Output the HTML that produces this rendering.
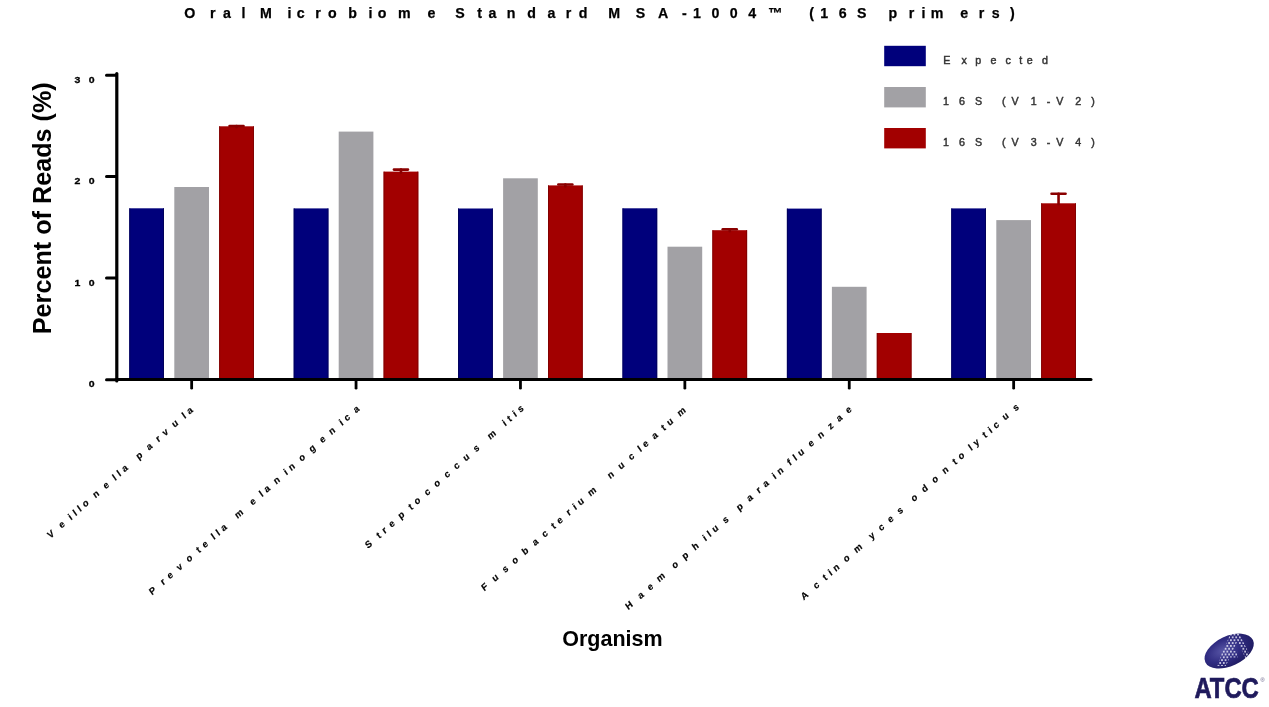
<!DOCTYPE html>
<html><head><meta charset="utf-8"><style>
html,body{margin:0;padding:0;background:#fff;}
body{width:1269px;height:707px;overflow:hidden;}
svg{display:block;will-change:transform;font-family:"Liberation Sans",sans-serif;}
</style></head><body>
<svg width="1269" height="707" viewBox="0 0 1269 707">
<rect width="100%" height="100%" fill="#fff"/>
<rect x="129.3" y="208.3" width="34.7" height="171.4" fill="#00007b"/>
<rect x="174.3" y="187" width="34.7" height="192.7" fill="#a2a1a5"/>
<rect x="219.2" y="126.3" width="34.7" height="253.4" fill="#a20000"/>
<rect x="129.3" y="208.3" width="0.9" height="171.4" fill="#00005a"/>
<rect x="163.1" y="208.3" width="0.9" height="171.4" fill="#00005a"/>
<rect x="219.2" y="126.3" width="0.9" height="253.4" fill="#7e0000"/>
<rect x="253" y="126.3" width="0.9" height="253.4" fill="#7e0000"/>
<line x1="229.55" y1="126" x2="243.55" y2="126" stroke="#8a0000" stroke-width="2.6" stroke-linecap="round"/>
<line x1="236.55" y1="126" x2="236.55" y2="127.3" stroke="#8a0000" stroke-width="2.6" stroke-linecap="round"/>
<rect x="293.7" y="208.4" width="34.7" height="171.3" fill="#00007b"/>
<rect x="338.7" y="131.6" width="34.7" height="248.1" fill="#a2a1a5"/>
<rect x="383.6" y="171.6" width="34.7" height="208.1" fill="#a20000"/>
<rect x="293.7" y="208.4" width="0.9" height="171.3" fill="#00005a"/>
<rect x="327.5" y="208.4" width="0.9" height="171.3" fill="#00005a"/>
<rect x="383.6" y="171.6" width="0.9" height="208.1" fill="#7e0000"/>
<rect x="417.4" y="171.6" width="0.9" height="208.1" fill="#7e0000"/>
<line x1="393.95" y1="169.6" x2="407.95" y2="169.6" stroke="#8a0000" stroke-width="2.6" stroke-linecap="round"/>
<line x1="400.95" y1="169.6" x2="400.95" y2="172.6" stroke="#8a0000" stroke-width="2.6" stroke-linecap="round"/>
<rect x="458.1" y="208.5" width="34.7" height="171.2" fill="#00007b"/>
<rect x="503.1" y="178.3" width="34.7" height="201.4" fill="#a2a1a5"/>
<rect x="548" y="185.4" width="34.7" height="194.3" fill="#a20000"/>
<rect x="458.1" y="208.5" width="0.9" height="171.2" fill="#00005a"/>
<rect x="491.9" y="208.5" width="0.9" height="171.2" fill="#00005a"/>
<rect x="548" y="185.4" width="0.9" height="194.3" fill="#7e0000"/>
<rect x="581.8" y="185.4" width="0.9" height="194.3" fill="#7e0000"/>
<line x1="558.35" y1="184.5" x2="572.35" y2="184.5" stroke="#8a0000" stroke-width="2.6" stroke-linecap="round"/>
<line x1="565.35" y1="184.5" x2="565.35" y2="186.4" stroke="#8a0000" stroke-width="2.6" stroke-linecap="round"/>
<rect x="622.5" y="208.3" width="34.7" height="171.4" fill="#00007b"/>
<rect x="667.5" y="246.7" width="34.7" height="133" fill="#a2a1a5"/>
<rect x="712.4" y="230.2" width="34.7" height="149.5" fill="#a20000"/>
<rect x="622.5" y="208.3" width="0.9" height="171.4" fill="#00005a"/>
<rect x="656.3" y="208.3" width="0.9" height="171.4" fill="#00005a"/>
<rect x="712.4" y="230.2" width="0.9" height="149.5" fill="#7e0000"/>
<rect x="746.2" y="230.2" width="0.9" height="149.5" fill="#7e0000"/>
<line x1="722.75" y1="229.3" x2="736.75" y2="229.3" stroke="#8a0000" stroke-width="2.6" stroke-linecap="round"/>
<line x1="729.75" y1="229.3" x2="729.75" y2="231.2" stroke="#8a0000" stroke-width="2.6" stroke-linecap="round"/>
<rect x="786.9" y="208.6" width="34.7" height="171.1" fill="#00007b"/>
<rect x="831.9" y="286.8" width="34.7" height="92.9" fill="#a2a1a5"/>
<rect x="876.8" y="333" width="34.7" height="46.7" fill="#a20000"/>
<rect x="786.9" y="208.6" width="0.9" height="171.1" fill="#00005a"/>
<rect x="820.7" y="208.6" width="0.9" height="171.1" fill="#00005a"/>
<rect x="876.8" y="333" width="0.9" height="46.7" fill="#7e0000"/>
<rect x="910.6" y="333" width="0.9" height="46.7" fill="#7e0000"/>
<rect x="951.3" y="208.4" width="34.7" height="171.3" fill="#00007b"/>
<rect x="996.3" y="220.1" width="34.7" height="159.6" fill="#a2a1a5"/>
<rect x="1041.2" y="203.3" width="34.7" height="176.4" fill="#a20000"/>
<rect x="951.3" y="208.4" width="0.9" height="171.3" fill="#00005a"/>
<rect x="985.1" y="208.4" width="0.9" height="171.3" fill="#00005a"/>
<rect x="1041.2" y="203.3" width="0.9" height="176.4" fill="#7e0000"/>
<rect x="1075" y="203.3" width="0.9" height="176.4" fill="#7e0000"/>
<line x1="1051.55" y1="193.7" x2="1065.55" y2="193.7" stroke="#8a0000" stroke-width="2.6" stroke-linecap="round"/>
<line x1="1058.55" y1="193.7" x2="1058.55" y2="204.3" stroke="#8a0000" stroke-width="2.6" stroke-linecap="round"/>
<line x1="116.8" y1="73.5" x2="116.8" y2="381" stroke="#000" stroke-width="3.2" stroke-linecap="round"/>
<line x1="116" y1="379.6" x2="1091" y2="379.6" stroke="#000" stroke-width="3" stroke-linecap="round"/>
<line x1="106.5" y1="75.3" x2="116" y2="75.3" stroke="#000" stroke-width="3" stroke-linecap="round"/>
<line x1="106.5" y1="176.5" x2="116" y2="176.5" stroke="#000" stroke-width="3" stroke-linecap="round"/>
<line x1="106.5" y1="278.1" x2="116" y2="278.1" stroke="#000" stroke-width="3" stroke-linecap="round"/>
<line x1="106.5" y1="379.7" x2="116" y2="379.7" stroke="#000" stroke-width="3" stroke-linecap="round"/>
<line x1="191.65" y1="380" x2="191.65" y2="388.2" stroke="#000" stroke-width="2.8" stroke-linecap="round"/>
<line x1="356.05" y1="380" x2="356.05" y2="388.2" stroke="#000" stroke-width="2.8" stroke-linecap="round"/>
<line x1="520.45" y1="380" x2="520.45" y2="388.2" stroke="#000" stroke-width="2.8" stroke-linecap="round"/>
<line x1="684.85" y1="380" x2="684.85" y2="388.2" stroke="#000" stroke-width="2.8" stroke-linecap="round"/>
<line x1="849.25" y1="380" x2="849.25" y2="388.2" stroke="#000" stroke-width="2.8" stroke-linecap="round"/>
<line x1="1013.65" y1="380" x2="1013.65" y2="388.2" stroke="#000" stroke-width="2.8" stroke-linecap="round"/>
<rect x="884.2" y="45.8" width="41.6" height="20.4" fill="#00007b"/>
<rect x="884.2" y="87" width="41.6" height="20.4" fill="#a2a1a5"/>
<rect x="884.2" y="128" width="41.6" height="20.4" fill="#a20000"/>
<text x="184.3 210.1 223.01 241.46 250.67 259.89 287.52 296.73 315.18 328.09 348.35 368.61 377.83 398.09 427.58 446.03 455.25 477.37 488.42 506.87 527.13 547.39 565.84 578.75 599.01 608.22 635.85 657.98 681.93 692.98 711.43 729.87 748.32 768.07 799.94 809.15 820.2 838.65 857.1 879.22 888.44 908.7 921.61 930.82 960.32 978.76 991.67 1010.12" y="17.5" font-size="14.2" font-weight="bold" fill="#000" stroke="#000" stroke-width="0.25">Oral Microbiome Standard MSA-1004™ (16S primers)</text>
<text x="943.3 961.52 975.18 990.38 1005.57 1019.23 1026.82 1042.02" y="64" font-size="10.7" font-weight="normal" fill="#333" stroke="#333" stroke-width="0.45">Expected</text>
<text x="943 958.95 974.9 994.03 1002 1011.55 1030.68 1046.63 1056.18 1075.31 1091.26" y="105.3" font-size="10.7" font-weight="normal" fill="#333" stroke="#333" stroke-width="0.45">16S (V1-V2)</text>
<text x="943 958.95 974.9 994.03 1002 1011.55 1030.68 1046.63 1056.18 1075.31 1091.26" y="146.3" font-size="10.7" font-weight="normal" fill="#333" stroke="#333" stroke-width="0.45">16S (V3-V4)</text>
<g transform="scale(1.12 1)"><text x="66.61 79.28" y="82.8" font-size="9.4" font-weight="bold" fill="#000" stroke="#000" stroke-width="0.3">30</text></g>
<g transform="scale(1.12 1)"><text x="66.61 79.28" y="184" font-size="9.4" font-weight="bold" fill="#000" stroke="#000" stroke-width="0.3">20</text></g>
<g transform="scale(1.12 1)"><text x="66.61 79.28" y="285.6" font-size="9.4" font-weight="bold" fill="#000" stroke="#000" stroke-width="0.3">10</text></g>
<g transform="scale(1.12 1)"><text x="79.28" y="387.2" font-size="9.4" font-weight="bold" fill="#000" stroke="#000" stroke-width="0.3">0</text></g>
<text transform="matrix(0.7462 -0.6658 0.5693 0.8221 50.24 538.89)" x="0 15.13 27.74 34.04 40.34 46.64 60.5 74.35 86.97 93.27 99.57 112.18 118.48 132.34 144.95 153.78 166.39 180.24 186.55" y="0" font-size="9.5" font-weight="bold" stroke="#000" stroke-width="0.2">Veillonella parvula</text>
<text transform="matrix(0.7462 -0.6658 0.5693 0.8221 151.98 595.47)" x="0 15.13 23.95 36.57 49.18 63.03 70.59 83.2 89.5 95.8 108.42 114.72 134.88 147.5 153.8 166.41 180.27 186.57 200.42 214.28 228.13 240.74 254.6 260.9 273.51" y="0" font-size="9.5" font-weight="bold" stroke="#000" stroke-width="0.2">Prevotella melaninogenica</text>
<text transform="matrix(0.7462 -0.6658 0.5693 0.8221 367.89 548.99)" x="0 15.13 22.68 31.51 44.12 57.97 65.53 79.38 91.99 105.85 118.46 131.08 144.93 157.54 163.84 184.01 190.31 197.86 204.17" y="0" font-size="9.5" font-weight="bold" stroke="#000" stroke-width="0.2">Streptococcus mitis</text>
<text transform="matrix(0.7462 -0.6658 0.5693 0.8221 484.36 591.57)" x="0 13.85 27.71 40.32 54.18 68.03 80.64 93.26 100.81 113.42 122.25 128.55 142.4 162.57 168.87 182.73 196.58 209.19 215.49 228.11 240.72 248.27 262.13" y="0" font-size="9.5" font-weight="bold" stroke="#000" stroke-width="0.2">Fusobacterium nucleatum</text>
<text transform="matrix(0.7462 -0.6658 0.5693 0.8221 628.31 610.31)" x="0 16.38 28.99 41.61 61.77 75.63 89.48 103.33 109.64 115.94 129.79 142.4 148.7 162.56 175.17 184 196.61 202.91 216.77 224.32 230.62 244.48 257.09 270.94 282.28 294.9" y="0" font-size="9.5" font-weight="bold" stroke="#000" stroke-width="0.2">Haemophilus parainfluenzae</text>
<text transform="matrix(0.7462 -0.6658 0.5693 0.8221 803.82 600.4)" x="0 16.38 28.99 36.55 42.85 56.7 70.55 90.72 103.33 115.95 128.56 141.17 147.48 161.33 175.18 189.04 202.89 210.44 224.3 230.6 243.21 250.77 257.07 269.68 283.53" y="0" font-size="9.5" font-weight="bold" stroke="#000" stroke-width="0.2">Actinomyces odontolyticus</text>
<text x="612.4" y="646" font-size="21.5" font-weight="bold" text-anchor="middle">Organism</text>
<text transform="translate(51 334.2) rotate(-90)" x="0" y="0" font-size="25.2" font-weight="bold">Percent of Reads (%)</text>
<g>
<defs>
<radialGradient id="lg" cx="0.4" cy="0.4" r="0.68"><stop offset="0" stop-color="#5856a6"/><stop offset="0.5" stop-color="#302c82"/><stop offset="1" stop-color="#1c185c"/></radialGradient>
<pattern id="dots" x="1230.9" y="634.5" width="3.56" height="5.7" patternUnits="userSpaceOnUse"><circle cx="0" cy="0" r="0.9" fill="#f4f4ff"/><circle cx="3.56" cy="0" r="0.9" fill="#f4f4ff"/><circle cx="0" cy="5.7" r="0.9" fill="#f4f4ff"/><circle cx="3.56" cy="5.7" r="0.9" fill="#f4f4ff"/><circle cx="1.78" cy="2.85" r="0.9" fill="#f4f4ff"/></pattern>
<clipPath id="aclip">
<polygon points="1216.8,666 1225.8,666 1233,650.5 1237.2,641.5 1238.8,633.5 1230.5,633.5"/>
<polygon points="1236,633.5 1239.2,633.5 1250.5,656.5 1246,659.5 1238.2,642.5"/>
<polygon points="1222,651 1237,651 1237.5,657.5 1221,657.5"/>
</clipPath>
</defs>
<ellipse cx="1229.15" cy="651.1" rx="26.3" ry="14.9" transform="rotate(-25 1229.15 651.1)" fill="url(#lg)"/>
<rect x="1210" y="630" width="45" height="40" fill="url(#dots)" clip-path="url(#aclip)"/>
<text x="1194.4" y="697.8" font-size="29.4" font-weight="bold" fill="#1f1a5c" stroke="#1f1a5c" stroke-width="0.7" textLength="64.4" lengthAdjust="spacingAndGlyphs">ATCC</text>
<text x="1260.5" y="681.6" font-size="5.6" fill="#55507a">&#174;</text>
</g>
</svg>
</body></html>
